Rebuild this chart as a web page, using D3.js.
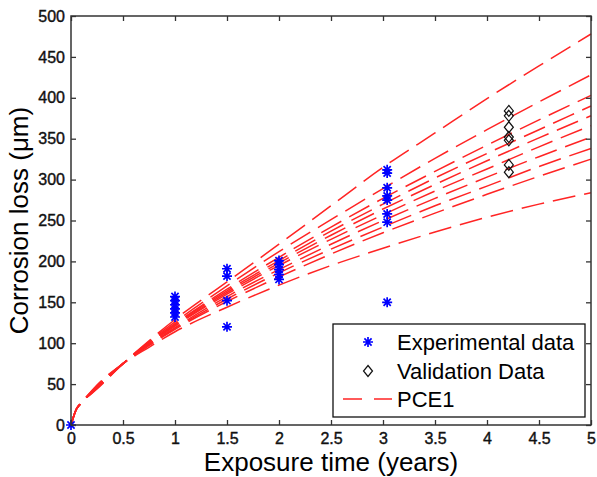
<!DOCTYPE html>
<html>
<head>
<meta charset="utf-8">
<script src="https://cdn.jsdelivr.net/npm/d3@7"></script>
<style>
  html, body { margin: 0; padding: 0; background: #fff; }
  svg { display: block; font-family: Arial, "Liberation Sans", sans-serif; }
</style>
</head>
<body>
<svg id="chart" width="597" height="477"></svg>
<script>
// PCE1 realisations: corrosion loss (um) read at these exposure times (years)
const years = [0, 0.05, 0.1, 0.25, 0.5, 0.75, 1, 1.5, 2, 2.5, 3, 3.5, 4, 4.5, 5];
const pce1 = [
  [0, 19, 27, 44, 75, 103, 129, 175, 221, 268, 315, 357, 399, 439, 478],
  [0, 19, 27, 45, 75, 102, 126, 170, 212, 251, 289, 326, 361, 395, 428],
  [0, 19, 27, 45, 75, 101, 124, 166, 205, 242, 277, 310, 342, 373, 403],
  [0, 19, 27, 46, 75, 100, 123, 164, 201, 237, 270, 302, 332, 361, 390],
  [0, 19, 27, 46, 75, 100, 122, 162, 198, 232, 264, 294, 323, 351, 378],
  [0, 19, 27, 46, 75, 99, 121, 160, 195, 227, 257, 286, 313, 340, 366],
  [0, 19, 27, 47, 75, 98, 119, 157, 190, 221, 250, 277, 303, 328, 352],
  [0, 19, 27, 47, 75, 98, 118, 154, 186, 215, 242, 268, 292, 316, 338],
  [0, 19, 27, 48, 75, 97, 117, 151, 181, 209, 235, 259, 282, 304, 325],
  [0, 19, 27, 49, 75, 95, 114, 144, 171, 195, 216, 236, 254, 270, 284]
];

// experimental data
const expYears = [0, 1, 1, 1, 1, 1, 1, 1.5, 1.5, 1.5, 1.5, 2, 2, 2, 2, 2,
  3.04, 3.04, 3.04, 3.04, 3.04, 3.04, 3.04, 3.04];
const expLoss = [0, 157, 152, 147, 142, 137, 132, 191, 182, 152, 120, 201, 196, 190, 184, 178,
  312, 308, 290, 280, 275, 258, 248, 150];

// validation data
const valYears = [4.21, 4.21, 4.21, 4.21, 4.21, 4.21, 4.21];
const valLoss = [384, 378, 364, 352, 348, 318, 309];

const xTicks = [0, 0.5, 1, 1.5, 2, 2.5, 3, 3.5, 4, 4.5, 5];
const yTicks = [0, 50, 100, 150, 200, 250, 300, 350, 400, 450, 500];
const legendLabels = ['Experimental data', 'Validation Data', 'PCE1'];

const svg = d3.select('#chart');
const m = { left: 71, right: 591, top: 16, bottom: 425 };

const x = d3.scaleLinear().domain([0, 5]).range([m.left, m.right]);
const y = d3.scaleLinear().domain([0, 500]).range([m.bottom, m.top]);

const starPath = r => `M${-r},0H${r}M0,${-r}V${r}M${-0.72 * r},${-0.72 * r}L${0.72 * r},${0.72 * r}M${-0.72 * r},${0.72 * r}L${0.72 * r},${-0.72 * r}`;
const diamondPath = (w, h) => `M0,${-h}L${w},0L0,${h}L${-w},0Z`;

const plot = svg.append('g');

// PCE1 curves
const line = d3.line()
  .x((d, i) => x(years[i]))
  .y(d => y(d))
  .curve(d3.curveMonotoneX);

plot.selectAll('.pce').data(pce1).join('path')
  .attr('d', line)
  .attr('fill', 'none')
  .attr('stroke', '#ff2424')
  .attr('stroke-width', 1.5)
  .attr('stroke-dasharray', '23,9');

// experimental stars
plot.selectAll('.exp').data(expLoss).join('path')
  .attr('transform', (d, i) => `translate(${x(expYears[i])},${y(d)})`)
  .attr('d', starPath(5))
  .attr('fill', 'none')
  .attr('stroke', '#0000ff')
  .attr('stroke-width', 1.7);

// validation diamonds
plot.selectAll('.val').data(valLoss).join('path')
  .attr('transform', (d, i) => `translate(${x(valYears[i])},${y(d)})`)
  .attr('d', diamondPath(4.5, 5.5))
  .attr('fill', 'none')
  .attr('stroke', '#111')
  .attr('stroke-width', 1.2);

// axes, matlab style inward ticks on all sides
const styleAxis = g => {
  g.select('.domain').remove();
  g.selectAll('.tick line').attr('stroke', '#333').attr('stroke-width', 1.3);
  g.selectAll('.tick text').attr('fill', '#111').attr('font-size', '16px')
    .attr('stroke', '#111').attr('stroke-width', 0.4)
    .attr('font-family', 'Arial, "Liberation Sans", sans-serif');
};

svg.append('g').attr('transform', `translate(0,${m.bottom})`)
  .call(d3.axisBottom(x).tickValues(xTicks).tickSize(-5).tickPadding(8).tickFormat(d3.format('')))
  .call(styleAxis);
svg.append('g').attr('transform', `translate(0,${m.top})`)
  .call(d3.axisTop(x).tickValues(xTicks).tickSize(-5).tickFormat(''))
  .call(styleAxis);
svg.append('g').attr('transform', `translate(${m.left},0)`)
  .call(d3.axisLeft(y).tickValues(yTicks).tickSize(-5).tickPadding(6))
  .call(styleAxis);
svg.append('g').attr('transform', `translate(${m.right},0)`)
  .call(d3.axisRight(y).tickValues(yTicks).tickSize(-5).tickFormat(''))
  .call(styleAxis);

svg.append('rect')
  .attr('x', m.left).attr('y', m.top)
  .attr('width', m.right - m.left).attr('height', m.bottom - m.top)
  .attr('fill', 'none').attr('stroke', '#333').attr('stroke-width', 1.5);

// axis titles
svg.append('text')
  .attr('x', (m.left + m.right) / 2).attr('y', 471)
  .attr('text-anchor', 'middle').attr('font-size', '26px').attr('fill', '#000')
  .text('Exposure time (years)');
svg.append('text')
  .attr('transform', `translate(28,${(m.top + m.bottom) / 2}) rotate(-90)`)
  .attr('text-anchor', 'middle').attr('font-size', '26px').attr('fill', '#000')
  .text('Corrosion loss (μm)');

// legend
const lg = svg.append('g');
lg.append('rect')
  .attr('x', 333).attr('y', 324).attr('width', 252).attr('height', 93)
  .attr('fill', '#fff').attr('stroke', '#111').attr('stroke-width', 1.3);

const rowY = [342, 371, 399];
lg.append('path').attr('transform', `translate(368,${rowY[0]})`)
  .attr('d', starPath(5)).attr('fill', 'none').attr('stroke', '#0000ff').attr('stroke-width', 1.7);
lg.append('path').attr('transform', `translate(368,${rowY[1]})`)
  .attr('d', diamondPath(4.5, 5.5)).attr('fill', 'none').attr('stroke', '#111').attr('stroke-width', 1.2);
lg.append('line')
  .attr('x1', 343).attr('x2', 392).attr('y1', rowY[2]).attr('y2', rowY[2])
  .attr('stroke', '#ff2424').attr('stroke-width', 1.5).attr('stroke-dasharray', '19,12');

lg.selectAll('.lbl').data(legendLabels).join('text')
  .attr('x', 397).attr('y', (d, i) => rowY[i])
  .attr('dy', '0.35em')
  .attr('font-size', '22px').attr('fill', '#000')
  .text(d => d);
</script>
</body>
</html>
